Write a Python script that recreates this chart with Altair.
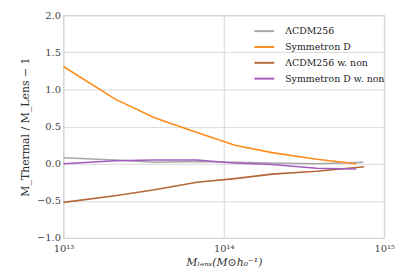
import altair as alt
import pandas as pd

series_names = ["ΛCDM256", "Symmetron D", "ΛCDM256 w. non", "Symmetron D w. non"]
colors = ["#a8a8a8", "#ff8c1a", "#b5673b", "#a35cbc"]

lcdm_x = [1.0e13, 2.1e13, 3.7e13, 6.8e13, 1.17e14, 2.0e14, 3.8e14, 7.4e14]
lcdm_y = [0.08, 0.05, 0.02, 0.03, 0.02, 0.01, 0.00, 0.02]
lcdm_e = [0.01, 0.01, 0.01, 0.01, 0.012, 0.015, 0.02, 0.045]

sym_x = [1.0e13, 2.1e13, 3.7e13, 6.8e13, 1.0e14, 1.17e14, 2.0e14, 3.8e14, 6.7e14]
sym_y = [1.31, 0.87, 0.62, 0.42, 0.30, 0.25, 0.15, 0.06, 0.00]
sym_e = [0.01, 0.01, 0.01, 0.01, 0.01, 0.01, 0.015, 0.02, 0.03]

lcdmn_x = [1.0e13, 2.1e13, 3.7e13, 6.8e13, 1.17e14, 2.0e14, 3.8e14, 7.5e14]
lcdmn_y = [-0.52, -0.43, -0.35, -0.25, -0.20, -0.14, -0.10, -0.04]
lcdmn_e = [0.005, 0.005, 0.005, 0.008, 0.01, 0.012, 0.015, 0.03]

symn_x = [1.0e13, 2.1e13, 3.7e13, 6.8e13, 1.0e14, 1.17e14, 2.0e14, 3.8e14, 6.7e14]
symn_y = [0.0, 0.04, 0.05, 0.05, 0.02, 0.01, -0.01, -0.06, -0.07]
symn_e = [0.005, 0.005, 0.005, 0.008, 0.01, 0.01, 0.012, 0.018, 0.03]

rows = []
for name, xs, ys, es in [
    (series_names[0], lcdm_x, lcdm_y, lcdm_e),
    (series_names[1], sym_x, sym_y, sym_e),
    (series_names[2], lcdmn_x, lcdmn_y, lcdmn_e),
    (series_names[3], symn_x, symn_y, symn_e),
]:
    for i, (x, y, e) in enumerate(zip(xs, ys, es)):
        rows.append({"series": name, "x": x, "y": y, "lo": y - e, "hi": y + e, "i": i})
df = pd.DataFrame(rows)

font = "DejaVu Serif"

xscale = alt.Scale(type="log", domain=[1e13, 1e15])
yscale = alt.Scale(domain=[-1.0, 2.0], nice=False)
cscale = alt.Scale(domain=series_names, range=colors)

x_enc = alt.X(
    "x:Q", scale=xscale,
    axis=alt.Axis(
        values=[1e13, 1e14, 1e15],
        labelExpr="datum.value < 5e13 ? '10¹³' : (datum.value < 5e14 ? '10¹⁴' : '10¹⁵')",
        title="Mₗₑₙₛ(M⊙h₀⁻¹)",
        titleFontStyle="italic",
        labelFlush=False,
        labelPadding=6,
    ),
)
y_axis = alt.Axis(
    values=[-1.0, -0.5, 0.0, 0.5, 1.0, 1.5, 2.0],
    format=".1f",
    labelOverlap=False,
    title="M_Thermal / M_Lens − 1",
)

color_enc = alt.Color(
    "series:N", scale=cscale, sort=series_names,
    legend=alt.Legend(
        title=None, orient="none", legendX=192, legendY=5,
        symbolType="stroke", symbolSize=400, symbolStrokeWidth=2,
        symbolOpacity=1,
        labelFont=font, labelFontSize=9.5, labelColor="#222222",
        rowPadding=-7, labelOffset=10,
    ),
)

band = alt.Chart(df).mark_area(opacity=0.35).encode(
    x=x_enc,
    y=alt.Y("lo:Q", scale=yscale, axis=y_axis),
    y2="hi:Q",
    color=color_enc,
    detail="series:N",
    order="i:Q",
)

lines = alt.Chart(df).mark_line(strokeWidth=1.6).encode(
    x=x_enc,
    y=alt.Y("y:Q", scale=yscale, axis=y_axis),
    color=color_enc,
    order="i:Q",
)

chart = alt.layer(band, lines).properties(
    width=324, height=225,
    autosize=alt.AutoSizeParams(type="none"),
    padding={"left": 56, "top": 6, "right": 15, "bottom": 33},
).configure_view(
    stroke="#cccccc", strokeWidth=1.2
).configure_axis(
    domain=False, ticks=False, grid=True, gridColor="#d9d9d9", gridWidth=1,
    labelFont=font, labelFontSize=10, labelColor="#444444", labelPadding=3,
    titleFont=font, titleFontSize=11, titleColor="#333333", titleFontWeight="normal",
).configure_axisY(
    titlePadding=6,
).configure_axisX(
    titlePadding=3,
)

chart.save("out.html", embed_options={"renderer": "svg", "actions": False})
